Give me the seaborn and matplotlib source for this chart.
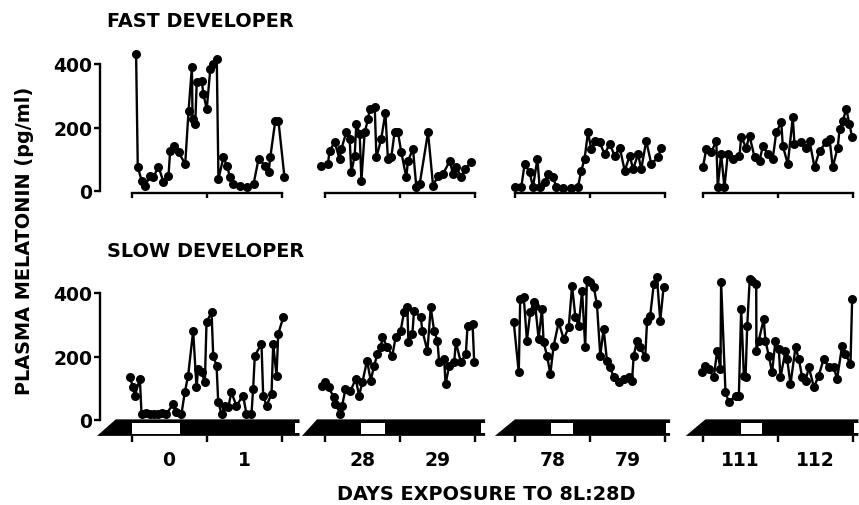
import matplotlib
matplotlib.use("Agg")
import matplotlib.pyplot as plt
import seaborn as sns

sns.set_style("white")
plt.rcParams["font.family"] = ["DejaVu Sans"]
plt.rcParams.update({
    "font.weight": "bold",
    "axes.edgecolor": "black",
    "xtick.color": "black",
    "ytick.color": "black",
    "text.color": "black",
    "axes.labelcolor": "black",
})

# ---------------- data (hours from start of first labelled day, pg/ml) ----------------
day_labels = [["0", "1"], ["28", "29"], ["78", "79"], ["111", "112"]]
y_ticks = [0, 200, 400]
y_ticklabels = ["0", "200", "400"]

fast_h_d0 = [2.2, 3.0, 4.9, 6.6, 8.9, 10.5, 12.9, 15.3, 17.7, 18.5, 20.1, 22.5, 25.7, 27.3, 28.9,
             29.2, 30.5, 31.2, 33.6, 34.4, 36.0, 37.7, 39.2, 40.8, 41.6, 44.0, 45.6, 47.2, 48.8, 52.0,
             55.2, 58.4, 60.8, 64.0, 65.6, 66.4, 68.8, 70.3, 73.2]
fast_v_d0 = [430, 75, 32, 17, 48, 44, 77, 28, 48, 127, 143, 122, 85, 253, 390,
             227, 211, 342, 348, 305, 258, 384, 400, 416, 38, 106, 80, 43, 22, 17,
             12, 22, 101, 80, 59, 106, 221, 221, 43]

fast_h_d28 = [-1.8, 1.4, 2.2, 4.6, 7.0, 7.8, 10.2, 11.8, 12.6, 14.2, 15.0, 16.6, 17.4, 19.0, 20.6,
              21.4, 23.8, 24.6, 26.9, 28.9, 30.1, 31.7, 33.3, 34.9, 36.5, 38.9, 39.7, 42.1, 43.7, 45.3,
              49.3, 51.7, 54.1, 56.5, 59.7, 61.2, 62.8, 65.2, 66.8, 70.0]
fast_v_d28 = [80, 85, 127, 153, 101, 132, 185, 164, 59, 111, 211, 180, 32, 185, 227,
              258, 264, 106, 164, 246, 101, 106, 185, 185, 122, 43, 95, 132, 12, 22,
              185, 17, 48, 54, 95, 54, 75, 43, 69, 90]

fast_h_d78 = [-0.2, 3.0, 4.6, 7.0, 8.6, 10.7, 11.8, 14.2, 15.8, 18.2, 19.8, 23.0, 26.9, 30.1, 31.7,
              33.3, 34.9, 36.5, 38.1, 40.5, 42.9, 45.3, 47.7, 50.1, 52.5, 54.9, 56.5, 58.9, 60.4, 62.8,
              65.2, 68.4, 70.0]
fast_v_d78 = [12, 12, 85, 59, 12, 101, 12, 27, 54, 43, 12, 8, 8, 12, 64,
              101, 185, 132, 158, 153, 116, 148, 111, 137, 64, 111, 69, 116, 69, 158,
              85, 106, 137]

fast_h_d111 = [0.2, 1.8, 4.2, 6.6, 7.3, 8.9, 10.5, 12.1, 14.5, 17.7, 18.5, 20.9, 22.5, 24.9, 27.3,
               28.9, 31.2, 33.6, 35.3, 37.7, 38.4, 40.8, 43.2, 44.0, 47.2, 49.6, 51.2, 53.6, 56.0, 59.2,
               60.8, 62.3, 64.7, 65.6, 67.1, 68.8, 70.3, 71.6]
fast_v_d111 = [75, 132, 122, 158, 12, 116, 12, 116, 101, 111, 169, 137, 174, 106, 95,
               143, 116, 101, 185, 216, 143, 85, 232, 148, 153, 137, 158, 75, 127, 153,
               164, 75, 137, 195, 221, 258, 211, 169]

slow_h_d0 = [-0.8, 0.8, 1.6, 4.0, 4.8, 6.8, 8.8, 10.8, 12.8, 14.7, 16.7, 19.9, 21.5, 23.9, 25.5,
             27.1, 29.5, 31.1, 31.9, 33.5, 35.1, 35.9, 38.3, 39.1, 40.7, 41.5, 43.1, 44.7, 46.3, 47.8,
             50.2, 53.4, 55.0, 57.4, 58.2, 59.0, 62.2, 63.0, 64.6, 67.0, 67.8, 69.4, 70.2, 72.6]
slow_v_d0 = [134, 103, 77, 129, 19, 22, 19, 20, 19, 22, 19, 50, 24, 19, 87,
             140, 281, 103, 161, 150, 119, 308, 339, 203, 171, 56, 19, 45, 40, 87,
             45, 77, 19, 19, 98, 203, 239, 77, 45, 82, 239, 140, 271, 323]

slow_h_d28 = [-1.4, 0.1, 1.8, 4.2, 5.0, 7.4, 8.2, 9.8, 12.2, 14.7, 16.3, 17.9, 20.1, 21.9, 23.5,
              25.1, 26.7, 27.5, 29.9, 32.2, 33.8, 36.2, 37.8, 39.4, 39.9, 41.8, 42.6, 45.8, 46.6, 49.0,
              50.6, 52.2, 53.8, 54.6, 57.0, 57.7, 59.4, 61.8, 62.6, 65.0, 67.4, 68.2, 70.6, 71.4]
slow_v_d28 = [108, 119, 103, 71, 50, 19, 45, 98, 92, 129, 77, 119, 187, 124, 171,
              208, 229, 260, 229, 203, 260, 281, 339, 355, 245, 271, 344, 323, 281, 218,
              355, 281, 250, 182, 192, 113, 171, 182, 245, 182, 208, 297, 302, 182]

slow_h_d78 = [-0.6, 1.8, 2.5, 4.2, 5.7, 7.3, 8.9, 9.7, 11.3, 12.9, 13.7, 15.3, 16.9, 18.5, 20.9,
              23.3, 25.7, 27.3, 28.9, 30.5, 32.1, 33.6, 34.4, 36.0, 37.7, 39.2, 40.8, 42.4, 44.0, 45.6,
              47.2, 49.6, 52.0, 54.4, 56.0, 56.8, 58.4, 60.0, 62.3, 63.2, 64.7, 66.4, 67.9, 69.5, 71.1]
slow_v_d78 = [308, 150, 381, 386, 250, 339, 371, 360, 255, 350, 245, 203, 145, 234, 308,
              255, 292, 423, 323, 297, 407, 229, 440, 434, 418, 365, 203, 287, 187, 166,
              134, 119, 129, 134, 124, 203, 250, 229, 197, 313, 329, 428, 450, 313, 418]

slow_h_d111 = [-0.1, 1.4, 3.0, 5.4, 7.0, 8.6, 8.9, 11.0, 12.6, 15.8, 17.4, 18.5, 19.8, 20.6, 21.4,
               22.6, 23.8, 25.7, 25.8, 26.9, 29.3, 30.1, 31.7, 33.3, 34.9, 36.5, 37.3, 39.7, 40.5, 42.1,
               44.5, 46.1, 47.7, 49.3, 50.9, 53.3, 55.6, 58.0, 60.4, 62.8, 64.4, 66.8, 68.4, 70.8, 71.6]
slow_v_d111 = [150, 171, 161, 134, 218, 161, 434, 87, 56, 77, 77, 350, 140, 134, 297,
               444, 439, 428, 218, 250, 318, 250, 203, 150, 250, 224, 134, 218, 192, 113,
               229, 192, 134, 124, 166, 103, 140, 192, 166, 166, 129, 234, 208, 176, 381]

fast_h = [fast_h_d0, fast_h_d28, fast_h_d78, fast_h_d111]
fast_v = [fast_v_d0, fast_v_d28, fast_v_d78, fast_v_d111]
slow_h = [slow_h_d0, slow_h_d28, slow_h_d78, slow_h_d111]
slow_v = [slow_v_d0, slow_v_d28, slow_v_d78, slow_v_d111]

# light-dark schedule bars (hours)
light_on = [0.0, 17.4, 17.3, 18.2]
light_off = [23.4, 28.5, 27.9, 28.7]
dark_start_bottom = [-16.5, -11.0, -9.6, -8.0]
dark_start_top = [-7.5, -3.8, 0.0, 1.4]
dark_end = [80.4, 76.6, 74.2, 74.6]

# ---------------- layout ----------------
W, H = 859, 506
PXH = 2.09                      # px per hour
PXV = 0.3175                    # px per pg/ml
tick0 = [131.5, 325, 515, 702.5]
XLIM = (-16, 80)
TOP_YLIM = (-25, 450)
BOT_YLIM = (-60, 470)
TOP_ZERO_PX = 192
BOT_ZERO_PX = 421
YSPINE_H = -15.2

fig = plt.figure(figsize=(W / 100, H / 100), dpi=100)


def make_axes(col, ylim, zero_px):
    top_px = zero_px - ylim[1] * PXV
    bot_px = zero_px - ylim[0] * PXV
    left = (tick0[col] + XLIM[0] * PXH) / W
    width = (XLIM[1] - XLIM[0]) * PXH / W
    ax = fig.add_axes([left, 1 - bot_px / H, width, (bot_px - top_px) / H])
    ax.set_xlim(*XLIM)
    ax.set_ylim(*ylim)
    ax.set_facecolor("none")
    for s in ["top", "right"]:
        ax.spines[s].set_visible(False)
    return ax


LW = 1.7
for col in range(4):
    for row in range(2):
        if row == 0:
            ax = make_axes(col, TOP_YLIM, TOP_ZERO_PX)
            hs, vs = fast_h[col], fast_v[col]
        else:
            ax = make_axes(col, BOT_YLIM, BOT_ZERO_PX)
            hs, vs = slow_h[col], slow_v[col]

        # y axis
        if col == 0:
            ax.spines["left"].set_position(("data", YSPINE_H))
            ax.spines["left"].set_bounds(0, 400)
            ax.spines["left"].set_linewidth(LW)
            ax.set_yticks(y_ticks, labels=y_ticklabels)
            ax.tick_params(axis="y", left=True, direction="out", length=4.5, width=LW,
                           pad=1, labelsize=13.5)
        else:
            ax.spines["left"].set_visible(False)
            ax.set_yticks([])

        # x axis
        ax.set_xticks([0, 36, 72], labels=["", "", ""])
        if row == 0:
            ax.spines["bottom"].set_position(("data", -5))
            ax.spines["bottom"].set_bounds(0, 72)
            ax.spines["bottom"].set_linewidth(LW)
            ax.tick_params(axis="x", which="major", bottom=True, direction="out",
                           length=3.8, width=LW)
        else:
            ax.spines["bottom"].set_visible(False)
            ax.spines["bottom"].set_position(("data", -50))
            ax.tick_params(axis="x", which="major", bottom=True, direction="out",
                           length=4.5, width=LW)
            ax.set_xticks([18, 54], labels=day_labels[col], minor=True)
            ax.tick_params(axis="x", which="minor", bottom=True, length=0, pad=10.5,
                           labelsize=13.5)
            # dark bar with slanted start, light period in white
            bl, tl, r = dark_start_bottom[col], dark_start_top[col], dark_end[col]
            ax.fill([bl, tl, r, r], [-50, 2, 2, -50], color="black", lw=0,
                    clip_on=False, zorder=2)
            ax.fill([light_on[col], light_off[col], light_off[col], light_on[col]],
                    [-43, -43, -8, -8], color="white", lw=0, clip_on=False, zorder=3)
            ax.fill([r - 2.0, r + 0.3, r + 0.3, r - 2.0], [-42, -42, -10, -10],
                    color="white", lw=0, clip_on=False, zorder=3)

        sns.lineplot(x=hs, y=vs, ax=ax, color="black", marker="o", markersize=6.5,
                     markeredgewidth=0, linewidth=LW, estimator=None, sort=False,
                     legend=False, clip_on=False, zorder=4)
        ax.set_xlabel("")
        ax.set_ylabel("")

FS = 13.9
fig.text(107 / W, 1 - 27 / H, "FAST DEVELOPER", ha="left", va="baseline", fontsize=FS)
fig.text(107 / W, 1 - 257 / H, "SLOW DEVELOPER", ha="left", va="baseline", fontsize=FS)
fig.text(486 / W, 1 - 500 / H, "DAYS EXPOSURE TO 8L:28D", ha="center", va="baseline",
         fontsize=FS)
fig.text(25 / W, 1 - 241 / H, "PLASMA MELATONIN (pg/ml)", rotation=90, ha="center",
         va="center", fontsize=FS)

fig.savefig("out.png", dpi=100)
